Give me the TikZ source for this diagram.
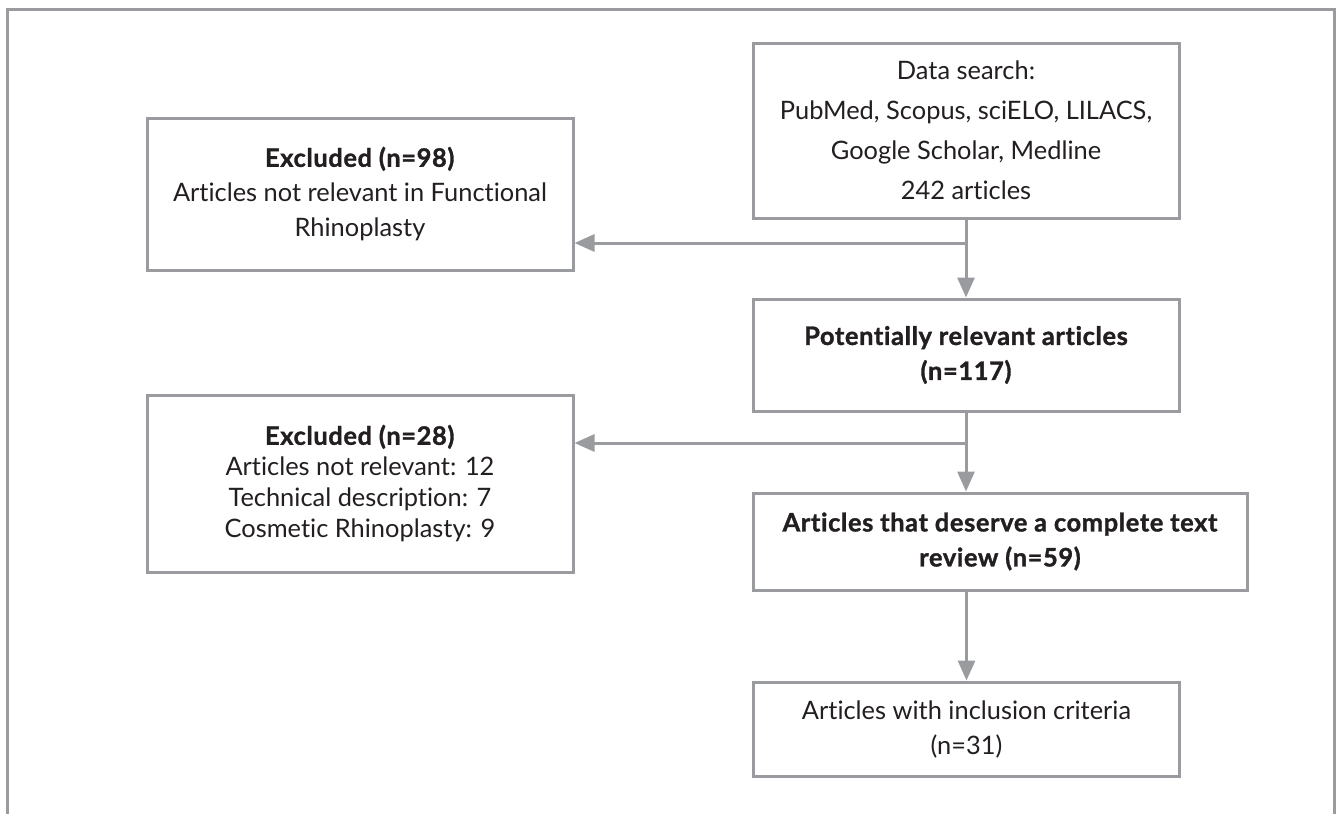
\documentclass[tikz,border=0pt]{standalone}
\usepackage{fontspec}
\setmainfont{Lato}[Ligatures=CommonOff, BoldFeatures={FakeBold=1.3, LetterSpace=2.5}]
\usepackage{xcolor}
\usepackage{tikz}
\usetikzlibrary{positioning,arrows.meta,calc}
\definecolor{linegray}{RGB}{154,155,159}
\definecolor{inkdark}{RGB}{35,31,32}
\begin{document}
\begin{tikzpicture}[
    x=0.5pt, y=-0.5pt,
    font=\fontsize{12.7}{17.5}\selectfont,
    text=inkdark,
    box/.style={
        draw=linegray,
        line width=1.5pt,
        fill=white,
        inner sep=0pt,
        align=center,
        minimum width=213pt
    },
    frame/.style={draw=linegray, line width=1.5pt},
    arr/.style={-{Triangle[length=10pt,width=8.5pt]}, draw=linegray, line width=1.5pt}
]
\useasboundingbox (0,0) rectangle (1338,814);

\draw[frame] (7,814) -- (7,9) -- (1334,9) -- (1334,814);

\node[box, minimum height=87.5pt, font=\fontsize{12.7}{20}\selectfont] (search) at (966,130.5)
{Data search:\\
PubMed, Scopus, sciELO, LILACS,\\
Google Scholar, Medline\\
242 articles};

\node[box, minimum height=76pt] (excl) at (360,194)
{\textbf{Excluded (n=98)}\\
Articles not relevant in Functional\\
Rhinoplasty};

\node[box, minimum height=56pt, font=\fontsize{12.7}{17.5}\selectfont\bfseries] (rel) at (966,355)
{Potentially relevant articles\\
(n=117)};

\node[box, minimum height=88.5pt, font=\fontsize{12.7}{15.5}\selectfont] (excltwo) at (360,483.5)
{\textbf{Excluded (n=28)}\\
Articles not relevant: 12\\
Technical description: 7\\
Cosmetic Rhinoplasty: 9};

\node[box, minimum width=247pt, minimum height=48.5pt, font=\fontsize{12.7}{17.5}\selectfont\bfseries] (full) at (1000,541.5)
{Articles that deserve a complete text\\
review (n=59)};

\node[box, minimum height=47pt] (incl) at (966.5,729)
{Articles with inclusion criteria\\
(n=31)};

\coordinate (splitone) at (966,243);
\coordinate (splittwo) at (966,443);

\draw[arr] (search.south) -- (rel.north);
\draw[arr] (splitone) -- (splitone -| excl.east);
\draw[arr] (rel.south) -- (rel.south |- full.north);
\draw[arr] (splittwo) -- (splittwo -| excltwo.east);
\draw[arr] (incl.north |- full.south) -- (incl.north);

\end{tikzpicture}
\end{document}
